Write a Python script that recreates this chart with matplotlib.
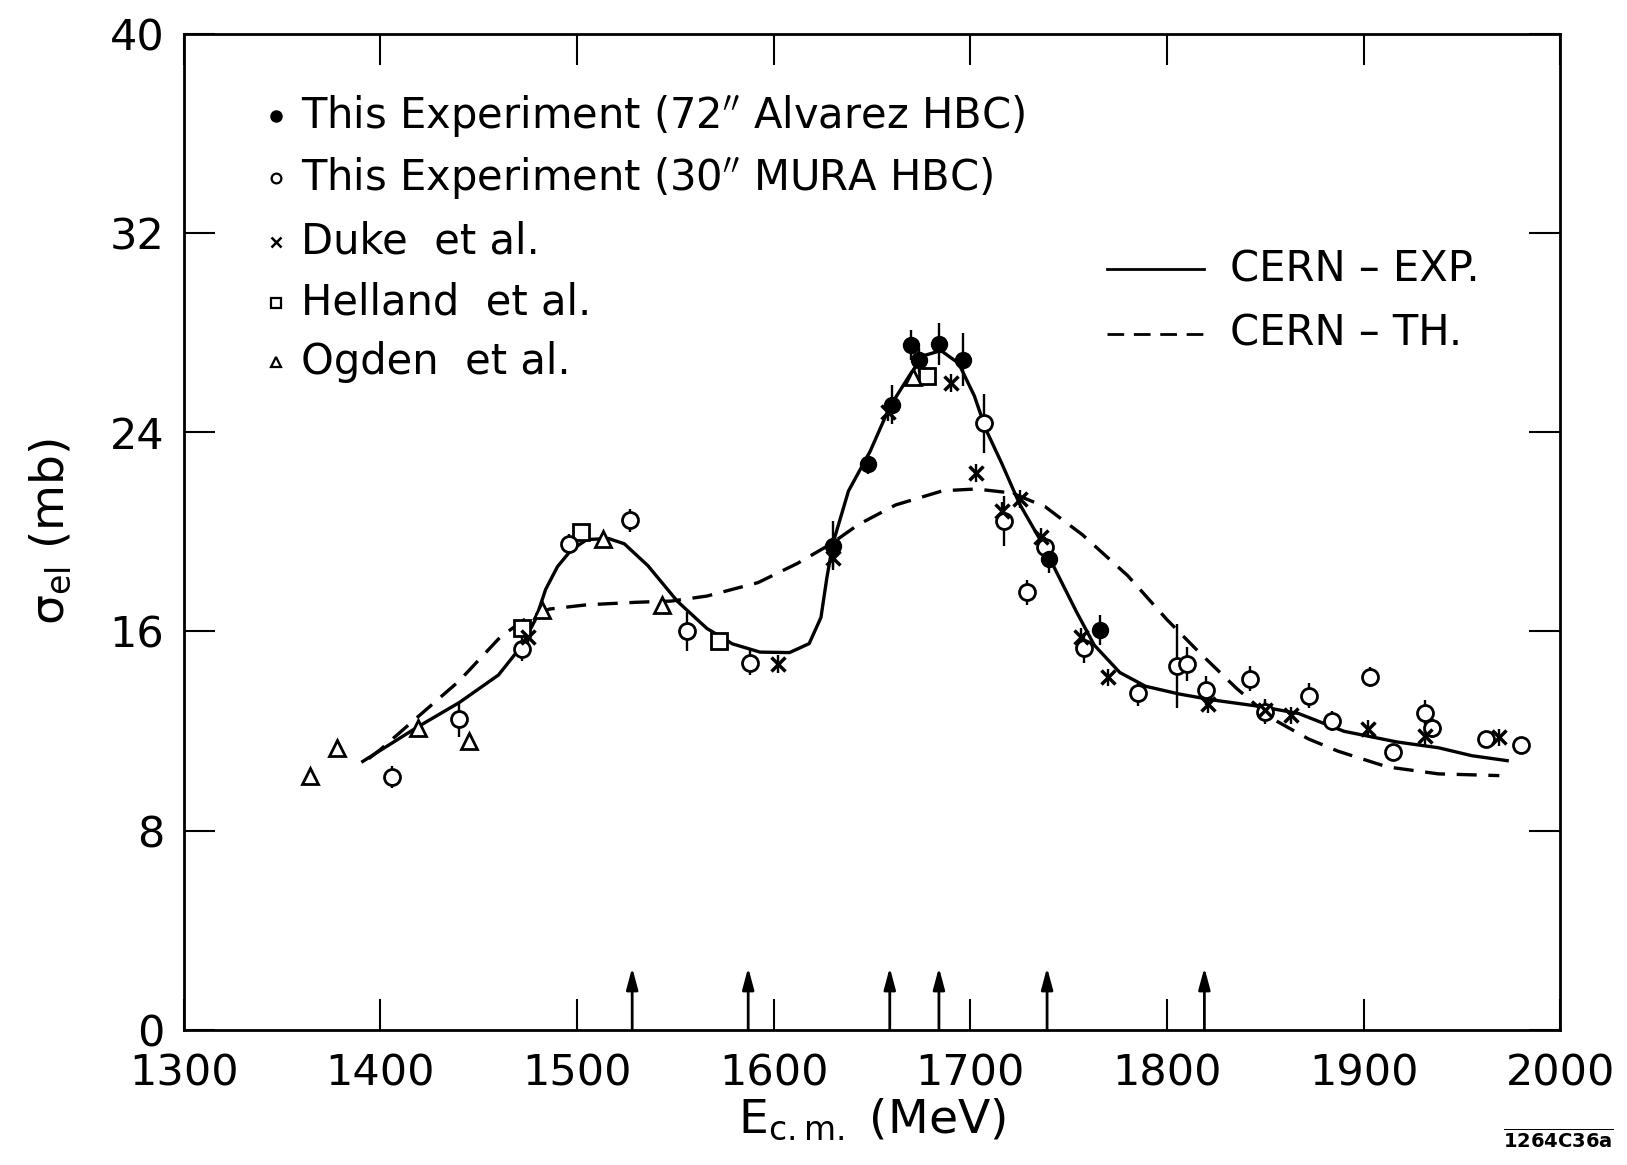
import matplotlib
matplotlib.use("Agg")
import matplotlib.pyplot as plt

plt.rcParams["font.family"] = ["DejaVu Sans"]
plt.rcParams["mathtext.fontset"] = "dejavusans"

# this experiment, 72" Alvarez HBC (filled circles)
alv_e = [1630, 1648, 1660, 1670, 1674, 1684, 1696, 1740, 1766]
alv_s = [19.45, 22.73, 25.11, 27.50, 26.90, 27.54, 26.92, 18.90, 16.05]
alv_err = [1.0, 0.4, 0.8, 0.6, 0.5, 0.85, 1.07, 0.55, 0.6]

# this experiment, 30" MURA HBC (open circles)
mura_e = [1406, 1440, 1472, 1496, 1527, 1556, 1588, 1707, 1717, 1729, 1738, 1758,
          1785, 1805, 1810, 1820, 1842, 1850, 1872, 1884, 1903, 1915, 1931, 1935,
          1962, 1980]
mura_s = [10.16, 12.47, 15.31, 19.53, 20.46, 16.00, 14.75, 24.35, 20.44, 17.57, 19.41,
          15.32, 13.52, 14.61, 14.69, 13.63, 14.10, 12.78, 13.42, 12.40, 14.18, 11.16,
          12.74, 12.13, 11.70, 11.42]
mura_err = [0.45, 0.7, 0.5, 0.4, 0.47, 0.8, 0.5, 1.17, 1.0, 0.5, 0.4, 0.6, 0.5, 1.67,
            0.7, 0.6, 0.5, 0.5, 0.5, 0.4, 0.4, 0.3, 0.5, 0.4, 0.3, 0.3]

# Duke et al. (crosses)
duke_e = [1475, 1602, 1630, 1658, 1690, 1703, 1716, 1725, 1736, 1756, 1770, 1821,
          1850, 1863, 1902, 1931, 1969]
duke_s = [15.77, 14.69, 18.95, 24.82, 25.97, 22.36, 20.84, 21.32, 19.81, 15.78, 14.16,
          13.09, 12.85, 12.63, 12.10, 11.80, 11.75]

# Helland et al. (squares)
hel_e = [1472, 1502, 1572, 1678]
hel_s = [16.12, 19.98, 15.63, 26.27]

# Ogden et al. (triangles)
ogd_e = [1364, 1378, 1419, 1445, 1482, 1513, 1543, 1671]
ogd_s = [10.21, 11.30, 12.14, 11.60, 16.86, 19.71, 17.07, 26.2]

# CERN - EXP. (solid curve)
exp_e = [1391, 1419, 1440, 1460, 1472, 1479, 1484, 1490, 1497, 1505, 1516, 1524,
         1536, 1551, 1566, 1579, 1593, 1608, 1618, 1624, 1627, 1630, 1638, 1649, 1659,
         1670, 1677, 1685, 1694, 1702, 1708, 1716, 1725, 1736, 1754, 1763, 1776, 1789,
         1806, 1823, 1848, 1867, 1890, 1917, 1938, 1955, 1973]
exp_s = [10.78, 12.17, 13.14, 14.25, 15.44, 16.51, 17.69, 18.60, 19.27, 19.69, 19.73,
         19.52, 18.64, 17.21, 16.12, 15.50, 15.17, 15.15, 15.51, 16.56, 18.15, 19.51,
         21.64, 23.23, 25.02, 26.40, 27.09, 27.28, 26.77, 25.46, 24.09, 22.74, 21.12,
         19.61, 16.78, 15.45, 14.35, 13.80, 13.49, 13.25, 12.98, 12.70, 11.99, 11.56,
         11.33, 11.01, 10.81]

# CERN - TH. (dashed curve)
th_e = [1394, 1400, 1419, 1440, 1461, 1474, 1486, 1505, 1530, 1548, 1566, 1592, 1612,
        1629, 1643, 1662, 1686, 1703, 1721, 1738, 1757, 1780, 1800, 1817, 1835, 1853,
        1872, 1887, 1912, 1938, 1969]
th_s = [10.89, 11.26, 12.57, 14.01, 15.78, 16.52, 16.90, 17.07, 17.17, 17.22, 17.42,
        17.96, 18.73, 19.51, 20.29, 21.08, 21.65, 21.72, 21.56, 21.01, 19.88, 18.24,
        16.47, 15.11, 13.74, 12.52, 11.68, 11.19, 10.56, 10.28, 10.21]

# energies marked by arrows
arrow_e = [1528, 1587, 1659, 1684, 1739, 1819]

x_ticks = [1300, 1400, 1500, 1600, 1700, 1800, 1900, 2000]
y_ticks = [0, 8, 16, 24, 32, 40]

fig = plt.figure(figsize=(16.27, 11.65), dpi=100)
ax = fig.add_axes([0.113, 0.116, 0.846, 0.855])

ax.plot(exp_e, exp_s, color="black", lw=2.4, solid_joinstyle="round", zorder=2)
ax.plot(th_e, th_s, color="black", lw=2.4, dashes=(6, 3.5), zorder=2)

err_kw = dict(ecolor="black", elinewidth=1.7, capsize=0, linestyle="none", zorder=4)
ax.errorbar(mura_e, mura_s, yerr=mura_err, marker="o", ms=11.5, mfc="white",
            mec="black", mew=2.0, **err_kw)
ax.errorbar(alv_e, alv_s, yerr=alv_err, marker="o", ms=11.5, mfc="black",
            mec="black", **err_kw)
ax.errorbar(duke_e, duke_s, yerr=0.35, marker="x", ms=10.5, mec="black", mew=2.5,
            **err_kw)
ax.plot(hel_e, hel_s, "s", ms=11.5, mfc="white", mec="black", mew=2.0, zorder=4)
ax.plot(ogd_e, ogd_s, "^", ms=11.5, mfc="white", mec="black", mew=2.0, zorder=4)

for e in arrow_e:
    ax.annotate("", xy=(e, 2.5), xytext=(e, 0),
                arrowprops=dict(arrowstyle="-|>,head_length=1.3,head_width=0.35",
                                color="black", lw=2.0, shrinkA=0, shrinkB=0))

# legend, symbols
leg_labels = ['This Experiment (72$^{\\prime\\prime}$ Alvarez HBC)',
              'This Experiment (30$^{\\prime\\prime}$ MURA HBC)',
              'Duke  et al.', 'Helland  et al.', 'Ogden  et al.']
leg_y = [0.917, 0.855, 0.791, 0.730, 0.670]
leg_style = [dict(marker="o", ms=8, mfc="black", mec="black"),
             dict(marker="o", ms=7, mfc="white", mec="black", mew=1.6),
             dict(marker="x", ms=7, mec="black", mew=1.8),
             dict(marker="s", ms=7, mfc="white", mec="black", mew=1.6),
             dict(marker="^", ms=7, mfc="white", mec="black", mew=1.6)]
for lab, y, st in zip(leg_labels, leg_y, leg_style):
    ax.plot([0.067], [y], transform=ax.transAxes, clip_on=False, linestyle="none", **st)
    ax.text(0.085, y, lab, transform=ax.transAxes, fontsize=30, va="center", ha="left")

# legend, curves
ax.plot([0.671, 0.741], [0.7635, 0.7635], transform=ax.transAxes, color="black", lw=2)
ax.plot([0.671, 0.741], [0.699, 0.699], transform=ax.transAxes, color="black", lw=2,
        dashes=(6, 3.5))
ax.text(0.760, 0.7635, "CERN – EXP.", transform=ax.transAxes, fontsize=30, va="center")
ax.text(0.760, 0.699, "CERN – TH.", transform=ax.transAxes, fontsize=30, va="center")

ax.set_xlim(1300, 2000)
ax.set_ylim(0, 40)
ax.set_xticks(x_ticks)
ax.set_yticks(y_ticks)
ax.tick_params(direction="in", top=True, right=True, length=22, width=1.5,
               labelsize=31)
ax.tick_params(axis="x", pad=16)
ax.tick_params(axis="y", pad=14)
for s in ax.spines.values():
    s.set_linewidth(2)

ax.set_xlabel("E$_{\\mathrm{c.m.}}$ (MeV)", fontsize=34)
ax.xaxis.set_label_coords(0.5, -0.067)
ax.set_ylabel("σ$_{\\mathrm{el}}$ (mb)", fontsize=34, labelpad=26)

fig.text(0.958, 0.022, "$\\overline{\\mathbf{1264C36a}}$", fontsize=14,
         ha="center", va="center")

fig.savefig("out.png", dpi=100)
